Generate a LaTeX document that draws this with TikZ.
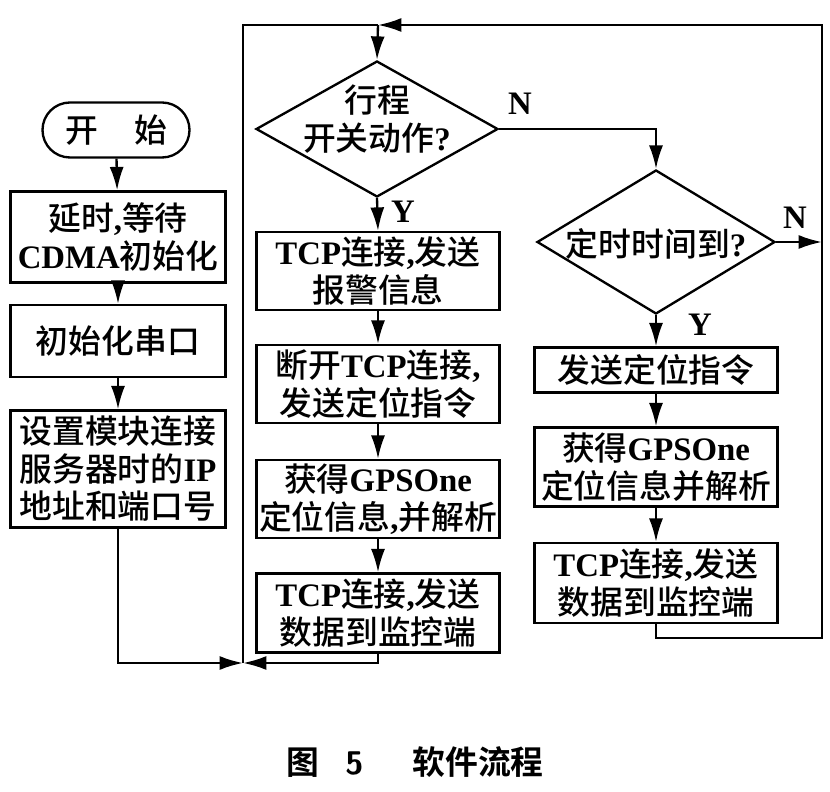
\documentclass[tikz,border=0pt]{standalone}
\usepackage{fontspec}
\setmainfont{Liberation Serif}
\newfontfamily\cjk{Noto Sans CJK SC Medium}
\newfontfamily\cjkb{Noto Sans CJK SC Bold}
\newcommand{\zh}[1]{{\cjk\mdseries #1}}
\usetikzlibrary{arrows.meta,shapes.geometric,shapes.misc,positioning}

\tikzstyle{every node}+=[inner sep=0pt,font=\fontsize{28}{32}\selectfont\bfseries]
\tikzstyle{every path}+=[line width=2pt]
\tikzstyle{box}=[draw,rectangle,align=center,minimum width=7.29cm,minimum height=2.34cm]
\tikzstyle{lbox}=[box,minimum width=6.45cm]
\tikzstyle{decision}=[draw,diamond]
\tikzstyle{flow}=[-{Latex[length=20pt,width=12pt]}]

\begin{document}
\begin{tikzpicture}[x=0.03cm,y=-0.03cm]
\useasboundingbox (0,0) rectangle (830,792);

% left column
\node [draw,rounded rectangle,minimum width=4.41cm,minimum height=1.65cm] (start) at (116,130) {\zh{开\hspace{1.1em}始}};
\node [lbox,minimum height=2.73cm] (wait) at (118,237) {\zh{延时},\zh{等待}\\CDMA\zh{初始化}};
\node [lbox,minimum height=2.16cm] (uart) at (118,341) {\zh{初始化串口}};
\node [lbox,minimum height=3.51cm] (setip) at (118,469) {\zh{设置模块连接}\\\zh{服务器时的}IP\\\zh{地址和端口号}};

% middle column
\node [decision,minimum width=7.26cm,minimum height=4.08cm] (trip) at (377,129) {};
\node [align=center] (triptext) at (377,119) {\zh{行程}\\\zh{开关动作}?};
\node [box] (alarm) at (378,271) {TCP\zh{连接},\zh{发送}\\\zh{报警信息}};
\node [box] (discon) at (378,384) {\zh{断开}TCP\zh{连接},\\\zh{发送定位指令}};
\node [box] (gps) at (378,499) {\zh{获得}GPSOne\\\zh{定位信息},\zh{并解析}};
\node [box,minimum height=2.37cm] (send) at (378,613) {TCP\zh{连接},\zh{发送}\\\zh{数据到监控端}};

% right column
\node [decision,minimum width=7.14cm,minimum height=4.32cm] (timer) at (656,242) {};
\node (timertext) at (656,244) {\zh{定时时间到}?};
\node [box,minimum height=1.35cm] (cmd) at (656,370) {\zh{发送定位指令}};
\node [box,minimum height=2.37cm] (gps2) at (656,467) {\zh{获得}GPSOne\\\zh{定位信息并解析}};
\node [box,minimum height=2.4cm] (send2) at (656,583) {TCP\zh{连接},\zh{发送}\\\zh{数据到监控端}};

% branch labels
\node (tripN) at (520,104) {N};
\node (tripY) at (403,212) {Y};
\node (timerN) at (795,218) {N};
\node (timerY) at (700,325) {Y};

\coordinate (join) at (243,663);
\coordinate (top) at (378,25);
\coordinate (right) at (822,638);

\draw[flow] (start) -- (wait);
\draw[flow] (wait) -- (uart);
\draw[flow] (uart) -- (setip);
\draw[flow] (setip.south) |- (join);
\draw[flow] (send.south) |- (join);
\draw (join) |- (top);
\draw[flow] (top) -- (trip.north);

\draw[flow] (trip.east) -| (timer.north);
\draw[flow] (trip.south) -- (alarm.north);
\draw[flow] (alarm) -- (discon);
\draw[flow] (discon) -- (gps);
\draw[flow] (gps) -- (send);

\draw[flow] (timer.east) -- (timer.east -| right);
\draw[flow] (timer.south) -- (cmd.north);
\draw[flow] (cmd) -- (gps2);
\draw[flow] (gps2) -- (send2);
\draw[flow] (send2.south) |- (right) |- (top);

\node [font=\fontsize{28}{32}\selectfont] (caption) at (415,762) {{\cjkb 图}\hspace{0.8em}{\sffamily\bfseries 5}\hspace{1.5em}{\cjkb 软件流程}};
\end{tikzpicture}
\end{document}
